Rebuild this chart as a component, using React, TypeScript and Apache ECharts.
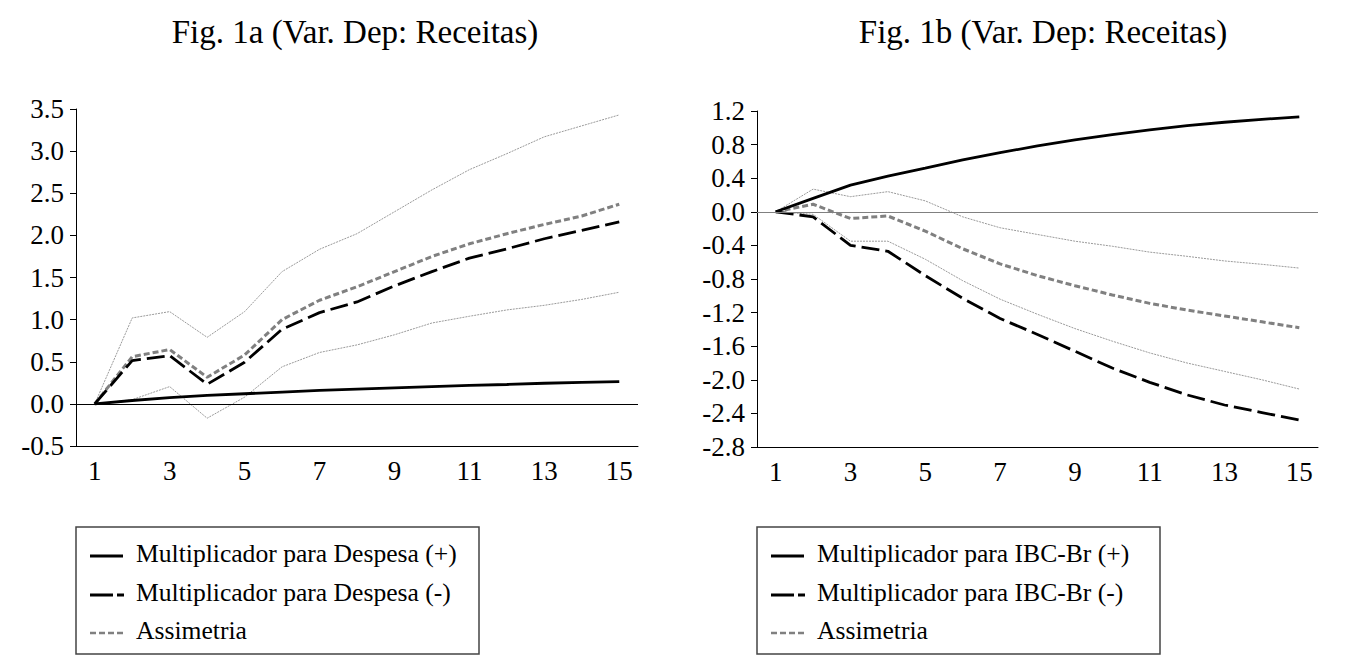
import React, { useEffect, useRef } from "react";
import * as echarts from "echarts";

const periods = ["1","2","3","4","5","6","7","8","9","10","11","12","13","14","15"];

// Fig. 1a
const despPos = [0, 0.04, 0.075, 0.1, 0.12, 0.14, 0.16, 0.175, 0.19, 0.205, 0.22, 0.23, 0.245, 0.255, 0.265];
const despNeg = [0, 0.514, 0.573, 0.233, 0.494, 0.886, 1.083, 1.21, 1.4, 1.57, 1.73, 1.84, 1.96, 2.06, 2.16];
const assimA = [0, 0.56, 0.645, 0.316, 0.58, 1.0, 1.23, 1.39, 1.57, 1.75, 1.9, 2.02, 2.13, 2.23, 2.37];
const upperA = [0, 1.02, 1.095, 0.79, 1.095, 1.57, 1.835, 2.02, 2.28, 2.54, 2.78, 2.97, 3.17, 3.3, 3.43];
const lowerA = [0, 0.05, 0.205, -0.17, 0.08, 0.44, 0.61, 0.7, 0.82, 0.96, 1.04, 1.115, 1.17, 1.24, 1.325];

// Fig. 1b
const ibcPos = [0, 0.16, 0.318, 0.426, 0.52, 0.617, 0.704, 0.784, 0.856, 0.92, 0.975, 1.027, 1.066, 1.1, 1.13];
const ibcNeg = [0, -0.06, -0.4, -0.47, -0.76, -1.03, -1.27, -1.46, -1.66, -1.86, -2.03, -2.18, -2.3, -2.39, -2.48];
const assimB = [0, 0.09, -0.08, -0.05, -0.23, -0.44, -0.62, -0.76, -0.88, -0.99, -1.09, -1.17, -1.24, -1.31, -1.38];
const upperB = [0, 0.27, 0.18, 0.24, 0.13, -0.06, -0.19, -0.27, -0.35, -0.41, -0.48, -0.53, -0.585, -0.625, -0.67];
const lowerB = [0, -0.03, -0.35, -0.35, -0.565, -0.82, -1.04, -1.22, -1.39, -1.54, -1.68, -1.8, -1.9, -2.0, -2.11];

const titleA = "Fig. 1a (Var. Dep: Receitas)";
const titleB = "Fig. 1b (Var. Dep: Receitas)";
const legendA = ["Multiplicador para Despesa (+)", "Multiplicador para Despesa (-)", "Assimetria"];
const legendB = ["Multiplicador para IBC-Br (+)", "Multiplicador para IBC-Br (-)", "Assimetria"];

const FONT = "Liberation Serif";

export default function App() {
  const ref = useRef<HTMLDivElement>(null);
  useEffect(() => {
    if (!ref.current) return;
    const chart = echarts.init(ref.current, undefined, { renderer: "svg" });

    const xAxis = (gridIndex: number) => ({
      type: "category",
      gridIndex,
      data: periods,
      boundaryGap: true,
      axisLine: { onZero: false, lineStyle: { color: "#000", width: 1 } },
      axisTick: { interval: 0, length: 6, lineStyle: { color: "#000" } },
      axisLabel: { interval: 1, color: "#000", fontFamily: FONT, fontSize: 27, margin: 11 },
      splitLine: { show: false },
    });
    const yAxis = (gridIndex: number, min: number, max: number, interval: number) => ({
      type: "value",
      gridIndex,
      min,
      max,
      interval,
      axisLine: { show: true, lineStyle: { color: "#000", width: 1 } },
      axisTick: { show: true, length: 6, lineStyle: { color: "#000" } },
      axisLabel: {
        color: "#000",
        fontFamily: FONT,
        fontSize: 27,
        margin: 12,
        formatter: (v: number) => v.toFixed(1),
      },
      splitLine: { show: false },
    });

    const band = (data: number[], idx: number) => ({
      type: "line",
      xAxisIndex: idx,
      yAxisIndex: idx,
      data,
      symbol: "none",
      lineStyle: { color: "#9a9a9a", width: 1, type: [2, 1] },
      z: 1,
    });
    const solid = (data: number[], idx: number, zeroColor: string) => ({
      type: "line",
      xAxisIndex: idx,
      yAxisIndex: idx,
      data,
      symbol: "none",
      lineStyle: { color: "#000", width: 2.8 },
      z: 4,
      markLine: {
        silent: true,
        symbol: ["none", "none"],
        label: { show: false },
        lineStyle: { color: zeroColor, width: 1.2, type: "solid" },
        data: [{ yAxis: 0 }],
      },
    });
    const dashed = (data: number[], idx: number) => ({
      type: "line",
      xAxisIndex: idx,
      yAxisIndex: idx,
      data,
      symbol: "none",
      lineStyle: { color: "#000", width: 2.8, type: [18, 6] },
      z: 3,
    });
    const dotted = (data: number[], idx: number) => ({
      type: "line",
      xAxisIndex: idx,
      yAxisIndex: idx,
      data,
      symbol: "none",
      lineStyle: { color: "#808080", width: 3, type: [6, 3] },
      z: 2,
    });

    const legendGroup = (x: number, labels: string[]) => {
      const rowY = [553, 592, 630];
      return [
        {
          type: "rect",
          shape: { x, y: 527, width: 403, height: 127 },
          style: { fill: "#fff", stroke: "#444", lineWidth: 1.5 },
        },
        {
          type: "line",
          shape: { x1: x + 14, y1: rowY[0] + 3, x2: x + 47, y2: rowY[0] + 3 },
          style: { stroke: "#000", lineWidth: 3 },
        },
        {
          type: "line",
          shape: { x1: x + 14, y1: rowY[1] + 3, x2: x + 48, y2: rowY[1] + 3 },
          style: { stroke: "#000", lineWidth: 3, lineDash: [23, 4, 7, 20] },
        },
        {
          type: "line",
          shape: { x1: x + 14, y1: rowY[2] + 3, x2: x + 48, y2: rowY[2] + 3 },
          style: { stroke: "#808080", lineWidth: 2.5, lineDash: [6, 3] },
        },
        ...labels.map((t, i) => ({
          type: "text",
          x: x + 60,
          y: rowY[i],
          style: {
            text: t,
            fill: "#000",
            font: `25.6px "${FONT}"`,
            verticalAlign: "middle",
            align: "left",
          },
        })),
      ];
    };

    chart.setOption({
      animation: false,
      backgroundColor: "#fff",
      title: [
        {
          text: titleA,
          left: 350,
          top: 10,
          textAlign: "center",
          textStyle: { fontFamily: FONT, fontSize: 33, fontWeight: "normal", color: "#000" },
        },
        {
          text: titleB,
          left: 1038,
          top: 10,
          textAlign: "center",
          textStyle: { fontFamily: FONT, fontSize: 33, fontWeight: "normal", color: "#000" },
        },
      ],
      grid: [
        { left: 76, top: 109, width: 562, height: 337 },
        { left: 757, top: 111, width: 561, height: 336 },
      ],
      xAxis: [xAxis(0), xAxis(1)],
      yAxis: [yAxis(0, -0.5, 3.5, 0.5), yAxis(1, -2.8, 1.2, 0.4)],
      series: [
        band(upperA, 0),
        band(lowerA, 0),
        dotted(assimA, 0),
        dashed(despNeg, 0),
        solid(despPos, 0, "#000"),
        band(upperB, 1),
        band(lowerB, 1),
        dotted(assimB, 1),
        dashed(ibcNeg, 1),
        solid(ibcPos, 1, "#808080"),
      ],
      graphic: [...legendGroup(76, legendA), ...legendGroup(757, legendB)],
    });
    return () => chart.dispose();
  }, []);
  return (
    <div
      ref={ref}
      style={{ position: "absolute", left: 0, top: 0, width: 1358, height: 660, background: "#fff" }}
    />
  );
}
